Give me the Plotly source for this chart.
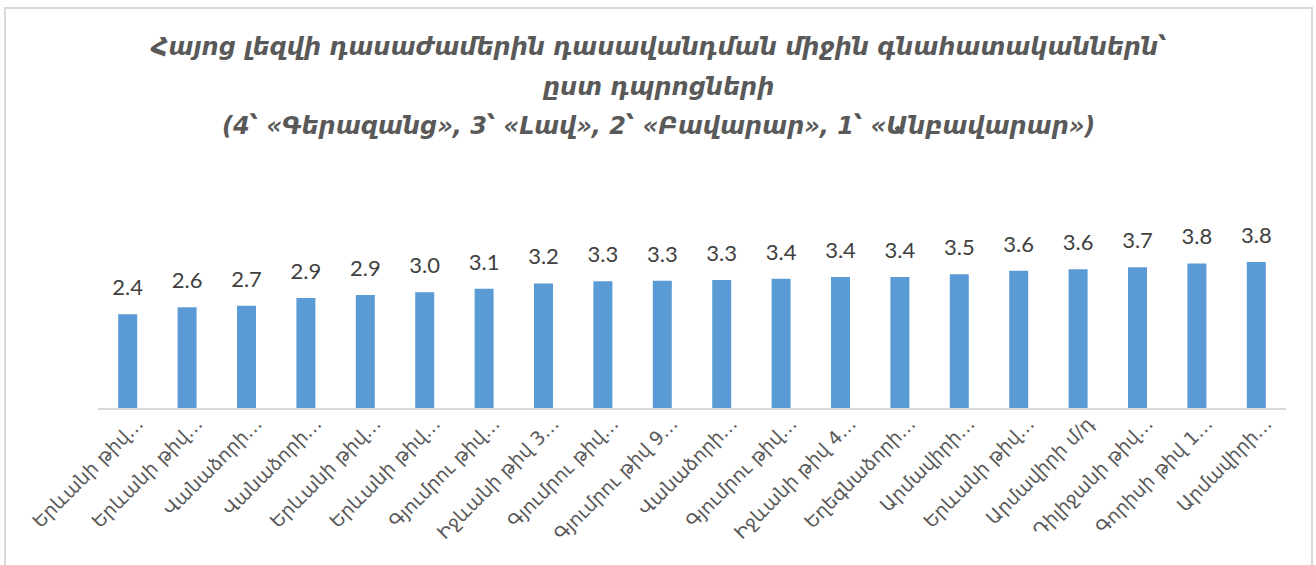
import plotly.graph_objects as go

categories = [
    "Երևանի թիվ…", "Երևանի թիվ…", "Վանաձորի…", "Վանաձորի…", "Երևանի թիվ…",
    "Երևանի թիվ…", "Գյումրու թիվ…", "Իջևանի թիվ 3…", "Գյումրու թիվ…", "Գյումրու թիվ 9…",
    "Վանաձորի…", "Գյումրու թիվ…", "Իջևանի թիվ 4…", "Եղեգնաձորի…", "Արմավիրի…",
    "Երևանի թիվ…", "Արմավիրի մ/դ", "Դիլիջանի թիվ…", "Գորիսի թիվ 1…", "Արմավիրի…",
]
values = [2.44, 2.62, 2.66, 2.86, 2.94, 3.01, 3.10, 3.24, 3.30, 3.31,
          3.33, 3.36, 3.41, 3.41, 3.48, 3.57, 3.61, 3.66, 3.76, 3.80]
title_lines = [
    "Հայոց լեզվի դասաժամերին դասավանդման միջին գնահատականներն՝",
    "ըստ դպրոցների",
    "(4՝ «Գերազանց», 3՝ «Լավ», 2՝ «Բավարար», 1՝ «Անբավարար»)",
]

W, H = 1316, 565
ML, MR, MT, MB = 98, 30, 235, 157
pw, ph = W - ML - MR, H - MT - MB

def px_to_paper_x(px):
    return (px - ML) / pw

def px_to_paper_y(py):
    return (H - MB - py) / ph

idx = list(range(len(categories)))

fig = go.Figure()
fig.add_trace(go.Bar(
    x=idx, y=values,
    marker=dict(color="#5b9bd5", line=dict(width=0)),
    width=0.32, hoverinfo="skip",
))
# value labels placed above bars with a gap like the original
fig.add_trace(go.Scatter(
    x=idx, y=values, mode="markers+text",
    marker=dict(size=20, color="rgba(0,0,0,0)"),
    text=[f"{v:.1f}" for v in values],
    textposition="top center",
    textfont=dict(family="Lato, DejaVu Sans, sans-serif", size=22, color="#404040"),
    cliponaxis=False, hoverinfo="skip",
))

annotations = []
for line, py in zip(title_lines, [47, 87, 126]):
    annotations.append(dict(
        text=f"<b><i>{line}</i></b>", x=px_to_paper_x(658), xref="paper", xanchor="center",
        y=px_to_paper_y(py), yref="paper", yanchor="middle", showarrow=False,
        font=dict(family="DejaVu Sans, sans-serif", size=24, color="#595959"),
    ))

fig.update_layout(
    width=W, height=H,
    margin=dict(l=ML, r=MR, t=MT, b=MB),
    paper_bgcolor="white", plot_bgcolor="white",
    showlegend=False,
    xaxis=dict(
        tickmode="array", tickvals=idx, ticktext=categories,
        tickangle=-45, range=[-0.5, len(categories) - 0.5],
        showline=True, linecolor="#d9d9d9", linewidth=2,
        showgrid=False, zeroline=False, ticks="",
        ticklabelshift=10, ticklabelstandoff=-5,
        tickfont=dict(family="DejaVu Sans, sans-serif", size=19, color="#595959"),
    ),
    yaxis=dict(range=[0, 4.5], visible=False),
    annotations=annotations,
    shapes=[dict(
        type="rect", xref="paper", yref="paper",
        x0=px_to_paper_x(5), x1=px_to_paper_x(1312),
        y0=px_to_paper_y(575), y1=px_to_paper_y(8),
        line=dict(color="#d9d9d9", width=2), fillcolor="rgba(0,0,0,0)", layer="below",
    )],
)

fig.write_html(
    "out.html",
    config={"displayModeBar": False},
    post_script="document.body.style.margin='0';document.body.style.overflow='hidden';",
)
